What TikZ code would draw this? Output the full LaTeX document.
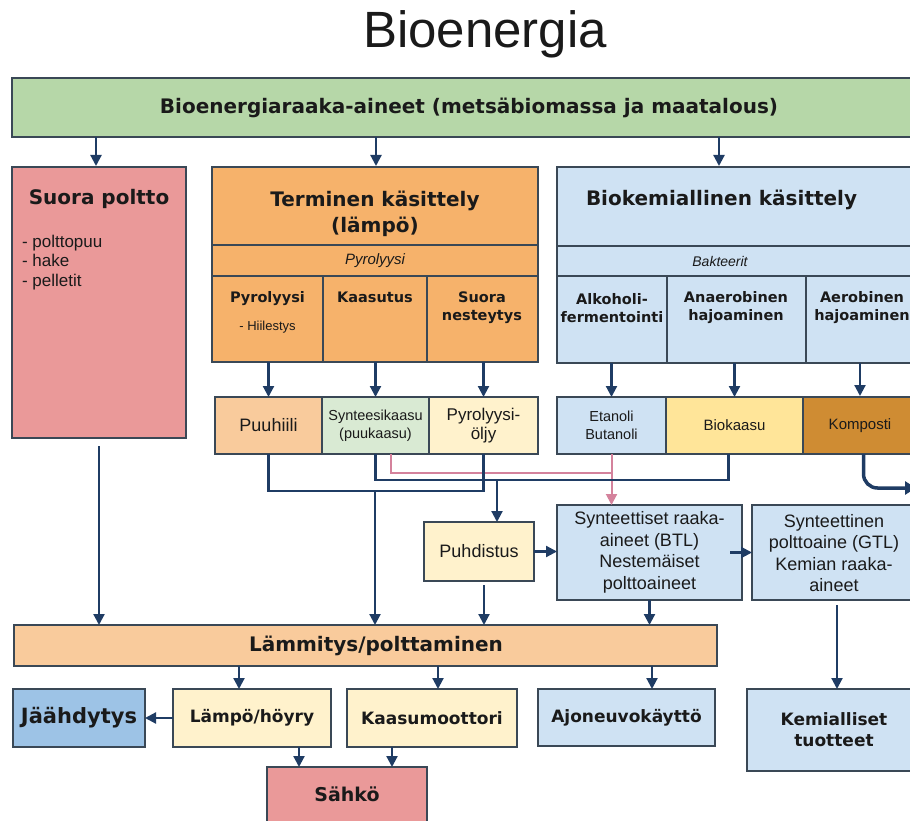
\documentclass[tikz,border=0pt]{standalone}
\usepackage{fontspec}
\setmainfont{Liberation Sans}
\newfontfamily\dvb{DejaVu Sans}
\usetikzlibrary{arrows.meta}
\definecolor{bordc}{HTML}{3A4856}
\definecolor{arrc}{HTML}{1F3C64}
\definecolor{pinkc}{HTML}{D4829C}
\definecolor{txtc}{HTML}{1A1A1A}
\definecolor{cgreen}{HTML}{B6D7A8}
\definecolor{cpink}{HTML}{EA9999}
\definecolor{corange}{HTML}{F6B26B}
\definecolor{clblue}{HTML}{CFE2F3}
\definecolor{cpeach}{HTML}{F9CB9C}
\definecolor{cmint}{HTML}{D9EAD3}
\definecolor{ccream}{HTML}{FFF2CC}
\definecolor{cyellow}{HTML}{FFE599}
\definecolor{ckomp}{HTML}{CF8C33}
\definecolor{cblue}{HTML}{9DC3E6}
\newcommand\mybox[7]{\node[bx,#6,minimum width={(#4)-(#2)},minimum height={(#5)-(#3)}] (#1) at ({((#2)+(#4))/2},{((#3)+(#5))/2}) {#7};}
\begin{document}
\begin{tikzpicture}[x=1pt,y=-1pt,
  bx/.style={draw=bordc,line width=1.8pt,inner sep=0pt,outer sep=0pt,align=center,text=txtc},
  tx/.style={inner sep=0pt,outer sep=0pt,align=center,text=txtc},
  bigb/.style={font=\dvb\bfseries\fontsize{20}{26}\selectfont},
  colb/.style={font=\dvb\bfseries\fontsize{14.5}{18}\selectfont},
  rowb/.style={font=\dvb\bfseries\fontsize{17}{21}\selectfont},
  arr/.style={draw=arrc,line width=2.2pt,-{Triangle[length=11pt,width=11pt]}},
  ln/.style={draw=arrc,line width=2.2pt},
  pk/.style={draw=pinkc,line width=2pt}]
\useasboundingbox (0,0) rectangle (910,821);
\begin{scope}
\clip (0,0) rectangle (910,821);
% title
\node[tx,anchor=base west,font=\fontsize{51}{60}\selectfont] (title) at (363,48) {Bioenergia};
% top box
\mybox{green}{12}{78}{918}{137}{fill=cgreen}{}
\node[tx,bigb] (greent) at (469,108) {Bioenergiaraaka-aineet (metsäbiomassa ja maatalous)};
% main process boxes
\mybox{suora}{12}{167}{186}{438}{fill=cpink}{}
\node[tx,bigb,anchor=base] (suorat) at (99,205) {Suora poltto};
\node[tx,anchor=north west,align=left,font=\fontsize{17}{19.5}\selectfont] (suoral) at (22,235) {- polttopuu\\- hake\\- pelletit};
\mybox{term}{212}{167}{538}{362}{fill=corange}{}
\draw[bordc,line width=1.8pt] (term.west |- 0,245) coordinate (tl1) -- (term.east |- tl1) coordinate (tl1e);
\draw[bordc,line width=1.8pt] (term.west |- 0,276) coordinate (tl2) -- (term.east |- tl2) coordinate (tl2e);
\draw[bordc,line width=1.8pt] (323,276) coordinate (td1) -- (td1 |- term.south);
\draw[bordc,line width=1.8pt] (427,276) coordinate (td2) -- (td2 |- term.south);
\node[tx,bigb] (termt) at (375,214) {Terminen käsittely\\(lämpö)};
\node[tx,font=\itshape\fontsize{15}{18}\selectfont] (termp) at (375,261) {Pyrolyysi};
\node[tx,colb,anchor=base] (tc1) at (267.5,302) {Pyrolyysi};
\node[tx,anchor=base,font=\fontsize{13}{15}\selectfont] (tc1b) at (267.5,330) {- Hiilestys};
\node[tx,colb,anchor=base] (tc2) at (375,302) {Kaasutus};
\node[tx,colb] (tc3) at (482,308) {Suora\\nesteytys};
\mybox{biok}{557}{167}{918}{363}{fill=clblue}{}
\draw[bordc,line width=1.8pt] (biok.west |- 0,246) coordinate (bl1) -- (biok.east |- bl1);
\draw[bordc,line width=1.8pt] (biok.west |- 0,276) coordinate (bl2) -- (biok.east |- bl2);
\draw[bordc,line width=1.8pt] (667,276) coordinate (bd1) -- (bd1 |- biok.south);
\draw[bordc,line width=1.8pt] (806,276) coordinate (bd2) -- (bd2 |- biok.south);
\node[tx,bigb,anchor=base west] (biokt) at (586,206) {Biokemiallinen käsittely};
\node[tx,font=\itshape\fontsize{14}{17}\selectfont] (biokp) at (720,261) {Bakteerit};
\node[tx,colb] (bc1) at (612,308) {Alkoholi-\\fermentointi};
\node[tx,colb] (bc2) at (736,308) {Anaerobinen\\hajoaminen};
\node[tx,colb] (bc3) at (862,308) {Aerobinen\\hajoaminen};
% arrows from top box
\coordinate (gk1) at (96,166);
\coordinate (gk2) at (376,166);
\coordinate (gk3) at (719,166);
\draw[arr] (gk1 |- green.south) -- (gk1);
\draw[arr] (gk2 |- green.south) -- (gk2);
\draw[arr] (gk3 |- green.south) -- (gk3);
% product row
\mybox{puuh}{215}{397}{322}{454}{fill=cpeach,font=\fontsize{18}{21}\selectfont}{Puuhiili}
\mybox{synt}{322}{397}{429}{454}{fill=cmint,font=\fontsize{14.5}{18}\selectfont}{Synteesikaasu\\(puukaasu)}
\mybox{pyrol}{429}{397}{538}{454}{fill=ccream,font=\fontsize{17}{19}\selectfont}{Pyrolyysi-\\öljy}
\mybox{etan}{557}{397}{666}{454}{fill=clblue,font=\fontsize{14.5}{18}\selectfont}{Etanoli\\Butanoli}
\mybox{biokaasu}{666}{397}{803}{454}{fill=cyellow,font=\fontsize{15}{18}\selectfont}{Biokaasu}
\mybox{komp}{803}{397}{918}{454}{fill=ckomp}{}
\node[tx,font=\fontsize{15}{18}\selectfont] (kompt) at (860,426) {Komposti};
% arrows into product row
\draw[arr] (puuh.north |- term.south) -- (puuh.north);
\draw[arr] (synt.north |- term.south) -- (synt.north);
\draw[arr] (pyrol.north |- term.south) -- (pyrol.north);
\draw[arr] (etan.north |- biok.south) -- (etan.north);
\draw[arr] (biokaasu.north |- biok.south) -- (biokaasu.north);
\coordinate (kin) at (860,396);
\draw[arr] (kin |- biok.south) -- (kin);
% middle boxes
\mybox{puhd}{424}{522}{534}{581}{fill=ccream,font=\fontsize{18}{21}\selectfont}{Puhdistus}
\mybox{synr}{557}{505}{742}{600}{fill=clblue,font=\fontsize{18}{21.5}\selectfont}{Synteettiset raaka-\\aineet (BTL)\\Nestemäiset\\polttoaineet}
\mybox{synp}{752}{505}{918}{600}{fill=clblue}{}
\node[tx,font=\fontsize{18}{21.5}\selectfont] (synpt) at (834,553) {Synteettinen\\polttoaine (GTL)\\Kemian raaka-\\aineet};
% pink connector
\coordinate (pj) at (611,473);
\draw[pk] ([xshift=15pt]synt.south) |- (pj);
\draw[pk,-{Triangle[length=11pt,width=11pt]}] (etan.south) -- (etan.south |- synr.north);
% dark connectors
\coordinate (j1) at (375,491);
\draw[ln] (puuh.south) |- (j1) -| (pyrol.south);
\coordinate (j2) at (497,480);
\draw[ln] (synt.south) |- (j2) -| ([xshift=-6pt]biokaasu.south);
\draw[arr] (j2) -- (j2 |- puhd.north);
% komposti curve
\coordinate (kend) at (916,488);
\draw[arrc,line width=3.5pt,rounded corners=14pt,-{Triangle[length=11pt,width=13pt]}] ([xshift=3pt]komp.south) |- (kend);
\draw[arr] (puhd.east) -- (puhd.east -| synr.west);
\draw[arr] ([xshift=-12pt]synr.east) -- (synr.east -| synp.west);
% heating box
\mybox{laem}{14}{625}{717}{666}{fill=cpeach}{}
\node[tx,bigb] (laemt) at (376,646) {Lämmitys/polttaminen};
\draw[arr] ([yshift=-8pt]suora.south) -- (suora.south |- laem.north);
\draw[arr] (j1) -- (j1 |- laem.north);
\draw[arr] ([xshift=5pt,yshift=-4pt]puhd.south) -- ([xshift=5pt]puhd.south |- laem.north);
\draw[arr] (synr.south) -- (synr.south |- laem.north);
% bottom row
\mybox{jaah}{13}{689}{145}{747}{fill=cblue,font=\dvb\bfseries\fontsize{21}{25}\selectfont}{Jäähdytys}
\mybox{lampo}{173}{689}{331}{747}{fill=ccream,rowb}{Lämpö/höyry}
\mybox{kaasu}{347}{689}{517}{747}{fill=ccream,rowb}{Kaasumoottori}
\mybox{ajon}{538}{689}{715}{746}{fill=clblue,rowb}{Ajoneuvokäyttö}
\mybox{kemi}{747}{689}{918}{771}{fill=clblue}{}
\node[tx,rowb] (kemit) at (834,730) {Kemialliset\\tuotteet};
\mybox{sahko}{267}{767}{427}{830}{fill=cpink}{}
\node[tx,font=\dvb\bfseries\fontsize{19}{23}\selectfont] (sahkot) at (347,794) {Sähkö};
\coordinate (a1) at (239,666);
\coordinate (a2) at (438,666);
\coordinate (a3) at (652,666);
\draw[arr] (a1) -- (a1 |- lampo.north);
\draw[arr] (a2) -- (a2 |- kaasu.north);
\draw[arr] (a3) -- (a3 |- ajon.north);
\draw[arr] (lampo.west) -- (jaah.east);
\coordinate (s1) at (299,747);
\coordinate (s2) at (392,747);
\draw[arr] (s1) -- (s1 |- sahko.north);
\draw[arr] (s2) -- (s2 |- sahko.north);
\draw[arr] ([xshift=2pt,yshift=-5pt]synp.south) -- ([xshift=2pt]synp.south |- kemi.north);
\end{scope}
\end{tikzpicture}
\end{document}
